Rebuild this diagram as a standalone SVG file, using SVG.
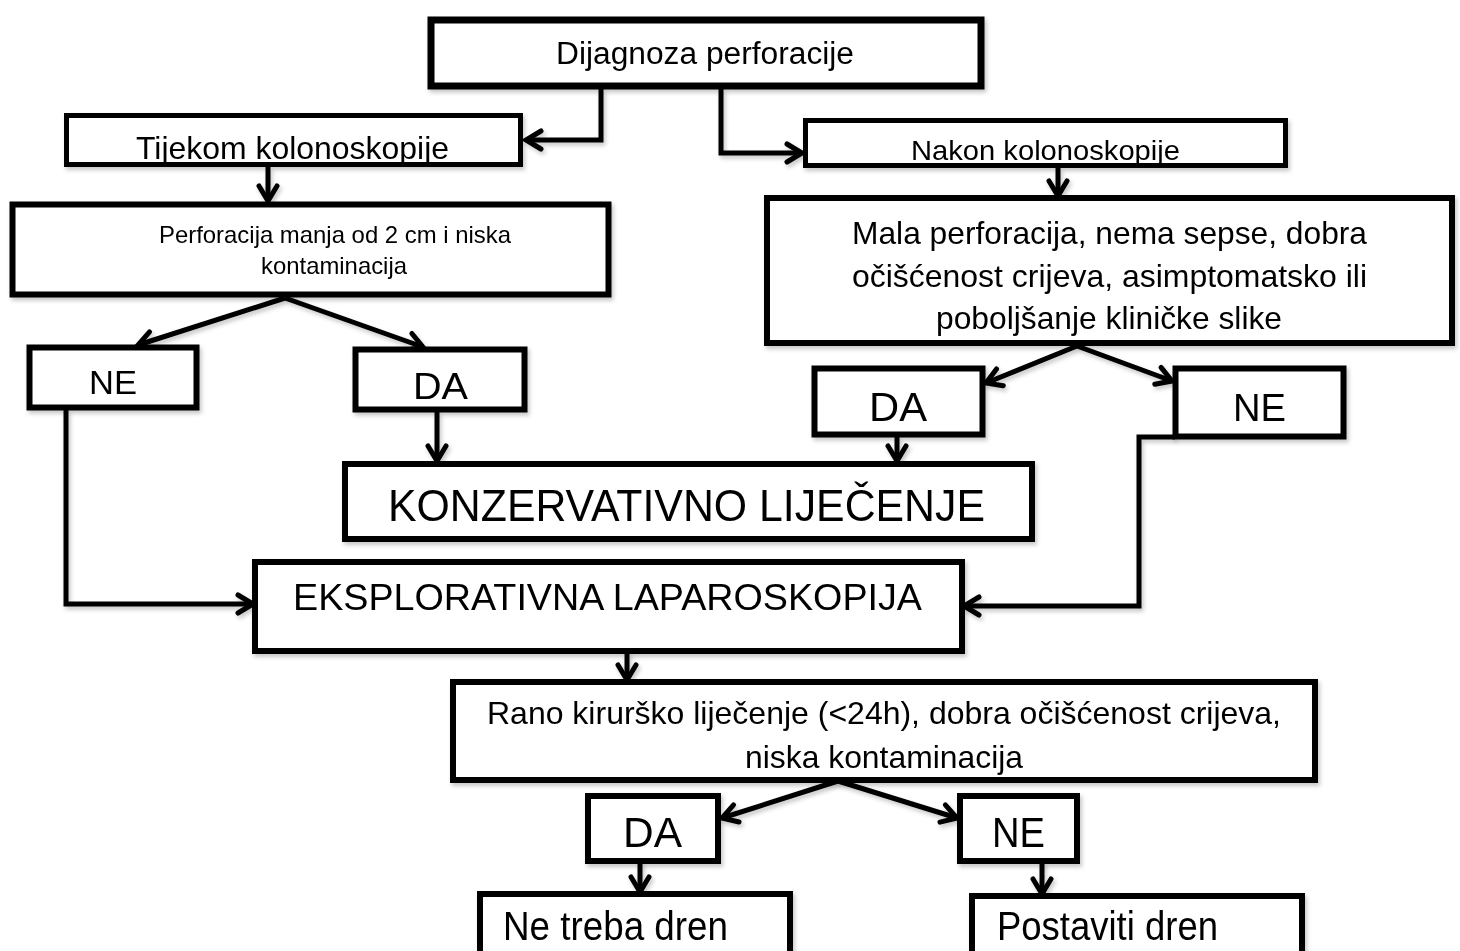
<svg xmlns="http://www.w3.org/2000/svg" width="1460" height="951" viewBox="0 0 1460 951">
<style>
.box{fill:#fff;stroke:#000;stroke-width:6}
.thin{stroke-width:5}
.t{font-family:"Liberation Sans",Arial,sans-serif;fill:#000}
.c{fill:none;stroke:#000;stroke-width:5;stroke-linejoin:miter}
</style>
<defs>
<filter id="sh" x="-5%" y="-5%" width="115%" height="130%">
<feDropShadow dx="2" dy="3" stdDeviation="2" flood-color="#000" flood-opacity="0.22"/>
</filter>
<marker id="a" markerUnits="userSpaceOnUse" viewBox="0 0 24 24" refX="20" refY="12" markerWidth="24" markerHeight="24" orient="auto">
<path d="M5,3 L20,12 L5,21" fill="none" stroke="#000" stroke-width="5" stroke-linecap="round" stroke-linejoin="miter"/>
</marker>
<clipPath id="cl2"><rect x="69" y="118" width="449" height="45"/></clipPath>
<clipPath id="cl3"><rect x="808" y="123" width="475" height="41"/></clipPath>
<clipPath id="clR"><rect x="456" y="685" width="856" height="92"/></clipPath>
</defs>
<rect width="1460" height="951" fill="#fff"/>

<g id="connectors" filter="url(#sh)">
<path class="c" d="M601,89 V140 H526" marker-end="url(#a)"/>
<path class="c" d="M721,89 V153 H802" marker-end="url(#a)"/>
<path class="c" d="M268,167 V201" marker-end="url(#a)"/>
<path class="c" d="M1058,168 V196" marker-end="url(#a)"/>
<path class="c" d="M285,298 L138,345" marker-end="url(#a)"/>
<path class="c" d="M285,298 L423,347" marker-end="url(#a)"/>
<path class="c" d="M1077,346 L986,383" marker-end="url(#a)"/>
<path class="c" d="M1077,346 L1172,381" marker-end="url(#a)"/>
<path class="c" d="M437,412 V461" marker-end="url(#a)"/>
<path class="c" d="M897,437 V461" marker-end="url(#a)"/>
<path class="c" d="M66,410 V604 H253" marker-end="url(#a)"/>
<path class="c" d="M1175,437 H1139 V606 H964" marker-end="url(#a)"/>
<path class="c" d="M627,652 V680" marker-end="url(#a)"/>
<path class="c" d="M838,781 L722,818" marker-end="url(#a)"/>
<path class="c" d="M838,781 L957,818" marker-end="url(#a)"/>
<path class="c" d="M640,862 V892" marker-end="url(#a)"/>
<path class="c" d="M1042,862 V894" marker-end="url(#a)"/>
</g>

<g id="n1" filter="url(#sh)">
<rect class="box" x="431" y="20" width="550" height="66" style="stroke-width:7"/>
<text class="t" x="556" y="64" font-size="31" textLength="298" lengthAdjust="spacingAndGlyphs">Dijagnoza perforacije</text>
</g>
<g id="n2" filter="url(#sh)">
<rect class="box thin" x="66.5" y="115.5" width="454" height="49"/>
<text class="t" x="136" y="159" font-size="32" textLength="313" lengthAdjust="spacingAndGlyphs" clip-path="url(#cl2)">Tijekom kolonoskopije</text>
</g>
<g id="n3" filter="url(#sh)">
<rect class="box thin" x="805.5" y="120.5" width="480" height="45"/>
<text class="t" x="911" y="160" font-size="28" textLength="269" lengthAdjust="spacingAndGlyphs" clip-path="url(#cl3)">Nakon kolonoskopije</text>
</g>
<g id="n4" filter="url(#sh)">
<rect class="box" x="12.5" y="204.5" width="596" height="90"/>
<text class="t" x="159" y="243" font-size="24" textLength="352" lengthAdjust="spacingAndGlyphs">Perforacija manja od 2 cm i niska</text>
<text class="t" x="261" y="274" font-size="24" textLength="146" lengthAdjust="spacingAndGlyphs">kontaminacija</text>
</g>
<g id="n5" filter="url(#sh)">
<rect class="box" x="767" y="198" width="685" height="145"/>
<text class="t" x="852" y="244" font-size="31.5" textLength="515" lengthAdjust="spacingAndGlyphs">Mala perforacija, nema sepse, dobra</text>
<text class="t" x="852" y="287" font-size="31.5" textLength="515" lengthAdjust="spacingAndGlyphs">očišćenost crijeva, asimptomatsko ili</text>
<text class="t" x="936" y="329" font-size="31.5" textLength="346" lengthAdjust="spacingAndGlyphs">poboljšanje kliničke slike</text>
</g>
<g id="n6" filter="url(#sh)">
<rect class="box" x="29.5" y="347.5" width="167" height="60"/>
<text class="t" x="89" y="394" font-size="33" textLength="48" lengthAdjust="spacingAndGlyphs">NE</text>
</g>
<g id="n7" filter="url(#sh)">
<rect class="box" x="355.5" y="349.5" width="169" height="60"/>
<text class="t" x="413" y="399" font-size="37" textLength="55" lengthAdjust="spacingAndGlyphs">DA</text>
</g>
<g id="n8" filter="url(#sh)">
<rect class="box" x="814.5" y="368.5" width="168" height="66"/>
<text class="t" x="869" y="421" font-size="40" textLength="58" lengthAdjust="spacingAndGlyphs">DA</text>
</g>
<g id="n9" filter="url(#sh)">
<rect class="box" x="1175.5" y="368.5" width="168" height="68"/>
<text class="t" x="1233" y="421" font-size="39" textLength="53" lengthAdjust="spacingAndGlyphs">NE</text>
</g>
<g id="n10" filter="url(#sh)">
<rect class="box" x="345" y="464" width="687" height="75"/>
<text class="t" x="388" y="521" font-size="45" textLength="597" lengthAdjust="spacingAndGlyphs">KONZERVATIVNO LIJEČENJE</text>
</g>
<g id="n11" filter="url(#sh)">
<rect class="box" x="255" y="562" width="707" height="89"/>
<text class="t" x="293" y="610" font-size="36" textLength="629" lengthAdjust="spacingAndGlyphs">EKSPLORATIVNA LAPAROSKOPIJA</text>
</g>
<g id="n12" filter="url(#sh)">
<rect class="box" x="453" y="682" width="862" height="98"/>
<text class="t" x="487" y="724" font-size="32" textLength="794" lengthAdjust="spacingAndGlyphs">Rano kirurško liječenje (&lt;24h), dobra očišćenost crijeva,</text>
<text class="t" x="745" y="768" font-size="32" textLength="278" lengthAdjust="spacingAndGlyphs" clip-path="url(#clR)">niska kontaminacija</text>
</g>
<g id="n13" filter="url(#sh)">
<rect class="box" x="588" y="796" width="130" height="65"/>
<text class="t" x="623" y="847" font-size="42" textLength="59" lengthAdjust="spacingAndGlyphs">DA</text>
</g>
<g id="n14" filter="url(#sh)">
<rect class="box" x="960" y="796" width="117" height="65"/>
<text class="t" x="992" y="847" font-size="42" textLength="53" lengthAdjust="spacingAndGlyphs">NE</text>
</g>
<g id="n15" filter="url(#sh)">
<rect class="box" x="480" y="894" width="310" height="80"/>
<text class="t" x="503" y="940" font-size="40" textLength="225" lengthAdjust="spacingAndGlyphs">Ne treba dren</text>
</g>
<g id="n16" filter="url(#sh)">
<rect class="box" x="972" y="896" width="330" height="80"/>
<text class="t" x="997" y="940" font-size="40" textLength="221" lengthAdjust="spacingAndGlyphs">Postaviti dren</text>
</g>
</svg>
